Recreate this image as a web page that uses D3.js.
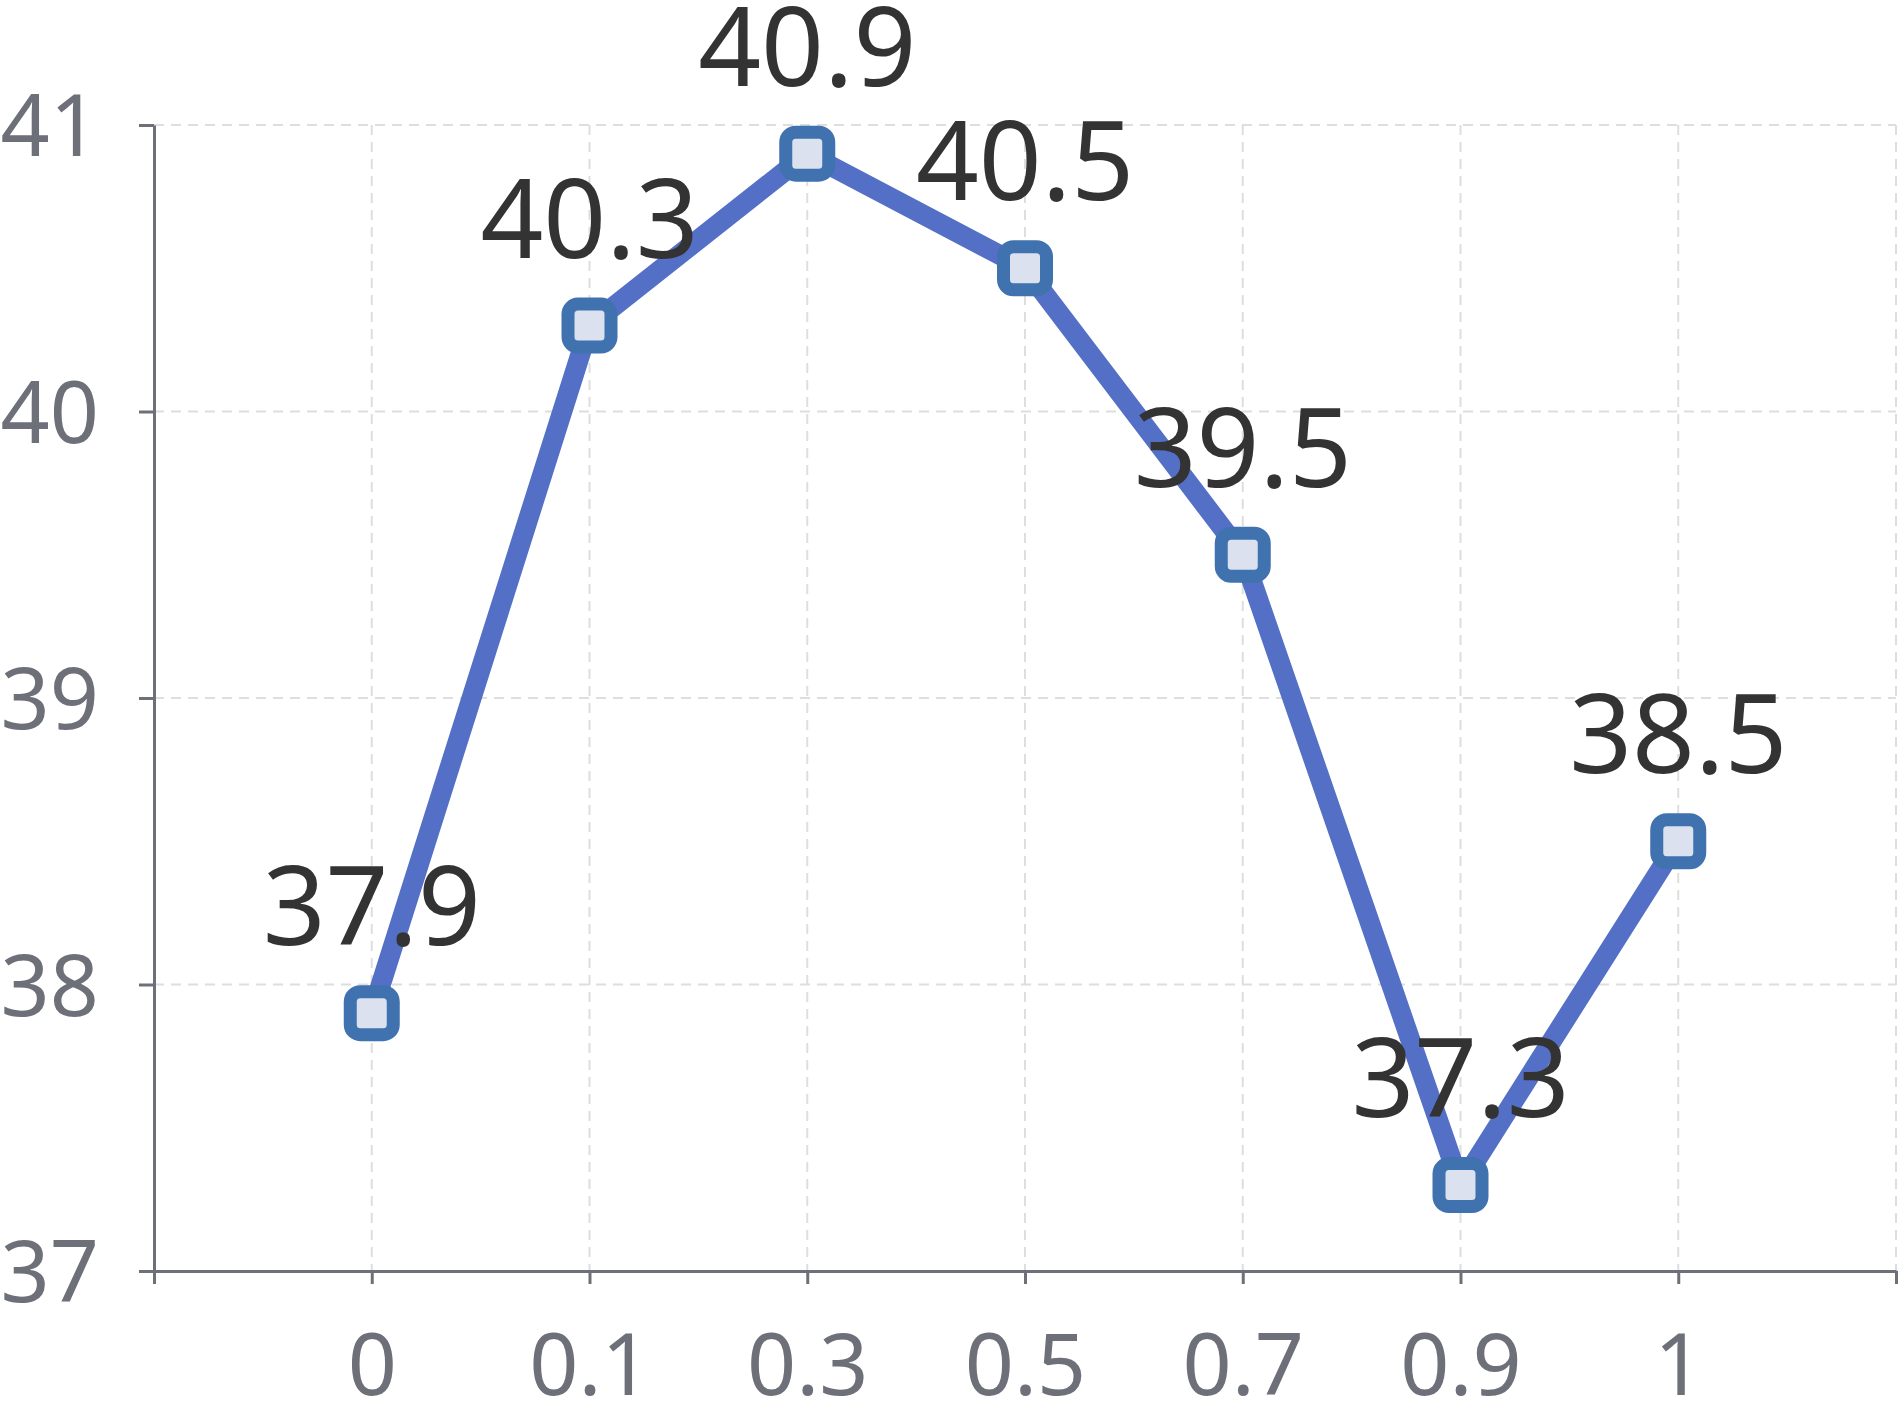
<!DOCTYPE html>
<html>
<head>
<meta charset="utf-8">
<script src="https://cdn.jsdelivr.net/npm/d3@7"></script>
<style>
  html, body { margin: 0; padding: 0; background: #fff; }
  svg { display: block; }
</style>
</head>
<body>
<div id="chart"></div>
<script>
// chart data
const categories = ['0', '0.1', '0.3', '0.5', '0.7', '0.9', '1'];
const values = [37.9, 40.3, 40.9, 40.5, 39.5, 37.3, 38.5];
const yTicks = [37, 38, 39, 40, 41];

const width = 1903;
const height = 1402;
const margin = { top: 125, right: 7, bottom: 131, left: 154 };

const axisColor = '#6e7079';
const font = '"Noto Sans", "Open Sans", sans-serif';

const svg = d3.select('#chart')
    .append('svg')
    .attr('width', width)
    .attr('height', height);

const innerW = width - margin.left - margin.right;
const innerH = height - margin.top - margin.bottom;

// one empty slot at each end so the categories sit between the axis ends
const slots = ['__start', ...categories, '__end'];
const x = d3.scalePoint().domain(slots).range([margin.left, margin.left + innerW]);
const y = d3.scaleLinear().domain([37, 41]).range([margin.top + innerH, margin.top]);

// grid
const grid = svg.append('g')
    .attr('stroke', '#dedede')
    .attr('stroke-width', 2)
    .attr('stroke-dasharray', '10,7');

grid.selectAll('line.h')
    .data(yTicks.filter(d => d !== 37))
    .enter().append('line')
    .attr('x1', margin.left)
    .attr('x2', margin.left + innerW)
    .attr('y1', d => y(d))
    .attr('y2', d => y(d));

grid.selectAll('line.v')
    .data(slots.slice(1))
    .enter().append('line')
    .attr('x1', d => x(d))
    .attr('x2', d => x(d))
    .attr('y1', margin.top)
    .attr('y2', margin.top + innerH);

// y axis
const yAxis = svg.append('g')
    .attr('transform', `translate(${margin.left},0)`)
    .call(d3.axisLeft(y).tickValues(yTicks).tickSize(15).tickPadding(40).tickSizeOuter(0).tickFormat(d3.format('d')));

// x axis
const xAxis = svg.append('g')
    .attr('transform', `translate(0,${margin.top + innerH})`)
    .call(d3.axisBottom(x).tickSize(13).tickSizeOuter(0)
        .tickFormat(d => d.startsWith('__') ? '' : d));

[yAxis, xAxis].forEach(g => {
    g.selectAll('path, line').attr('stroke', axisColor).attr('stroke-width', 3);
    g.selectAll('text')
        .attr('fill', axisColor)
        .style('font-family', font)
        .style('font-size', '86px');
});
yAxis.selectAll('text').attr('dy', '0.36em');
xAxis.selectAll('text').attr('y', 124).attr('dy', 0);

// line
const points = categories.map((c, i) => ({ cat: c, value: values[i] }));

svg.append('path')
    .datum(points)
    .attr('fill', 'none')
    .attr('stroke', '#5470c6')
    .attr('stroke-width', 20)
    .attr('stroke-linejoin', 'round')
    .attr('d', d3.line().x(d => x(d.cat)).y(d => y(d.value)));

// markers
const size = 43;
svg.append('g')
    .selectAll('rect')
    .data(points)
    .enter().append('rect')
    .attr('x', d => x(d.cat) - size / 2)
    .attr('y', d => y(d.value) - size / 2)
    .attr('width', size)
    .attr('height', size)
    .attr('rx', 10)
    .attr('fill', '#dbe1ee')
    .attr('stroke', '#3f72af')
    .attr('stroke-width', 13);

// value labels
svg.append('g')
    .selectAll('text')
    .data(points)
    .enter().append('text')
    .attr('x', d => x(d.cat))
    .attr('y', d => y(d.value) - 68)
    .attr('text-anchor', 'middle')
    .attr('fill', '#333')
    .style('font-family', font)
    .style('font-size', '110px')
    .text(d => d.value);
</script>
</body>
</html>
